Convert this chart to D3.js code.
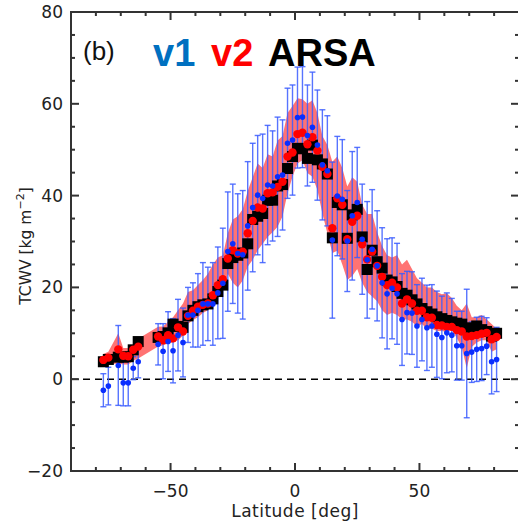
<!DOCTYPE html>
<html><head><meta charset="utf-8">
<script src="https://cdn.jsdelivr.net/npm/d3@7"></script>
<style>body{margin:0;background:#fff;} svg{display:block;}</style>
</head><body>
<script>
const latitudes = [-77,-75,-71,-69,-67,-65,-63,
 -55,-53,-51,-49,-47,-45,-43,-41,-39,-37,-35,-33,-31,-29,-27,-25,-23,-21,-19,-17,-15,-13,-11,-9,-7,-5,-3,-1,
 1,3,5,7,9,11,13,15,17,19,21,23,25,27,29,31,33,35,37,39,41,43,45,47,49,51,53,55,57,59,61,63,65,67,69,71,73,75,77,79,81];
const v1 = [-2.4,-1.5,3.0,-0.8,-0.8,2.4,3.8,
 7.6,6.1,8.2,6.2,9.6,8.0,14.0,14.0,15.0,16.4,16.4,16.4,18.8,20.9,27.8,29.5,27.4,27.1,33.4,37.4,40.1,39.4,42.3,42.1,44.1,44.5,51.4,52.1,
 57.0,57.1,53.1,54.9,51.0,46.7,45.4,30.3,39.9,39.2,30.1,35.6,38.5,30.5,26.0,28.3,24.7,21.0,18.6,19.8,18.6,13.0,14.5,14.4,11.6,13.0,11.2,11.6,9.8,9.1,10.1,9.6,7.3,7.3,5.6,5.9,6.5,6.7,7.2,3.8,4.3];
const v1Err = [3.6,4.1,8.7,5.0,5.0,2.5,3.5,
 4.5,6.0,6.5,7.0,7.8,7.5,6.0,7.0,8.0,9.0,8.0,9.0,10.0,12.0,13.0,13.0,13.0,14.0,14.0,14.0,13.0,14.0,13.0,12.0,13.0,12.0,12.0,12.0,
 11.0,11.0,11.0,12.0,12.0,12.0,12.0,17.0,13.0,13.0,11.0,14.0,12.0,12.0,12.7,13.0,12.0,12.0,12.0,11.0,11.0,10.0,9.0,9.0,9.0,9.0,9.3,9.0,9.4,9.0,8.7,8.0,7.5,7.5,14.0,6.6,7.0,7.0,6.2,7.0,7.0];
const v2 = [4.2,4.7,6.5,5.1,5.0,6.4,7.1,
 9.3,8.5,9.6,8.9,11.3,10.4,13.8,14.9,15.8,16.2,16.5,18.3,20.5,21.8,26.3,28.1,27.4,27.8,31.8,34.5,37.4,37.2,40.5,40.7,41.9,43.0,48.5,49.4,
 53.4,53.7,51.2,52.7,49.8,46.3,44.7,32.9,39.4,38.0,30.5,34.3,35.6,29.4,26.1,27.8,24.7,22.3,20.5,21.0,20.0,16.5,17.4,16.5,14.9,14.9,13.5,13.4,11.8,11.7,11.4,11.4,10.7,10.4,9.3,9.4,9.6,9.9,10.1,8.7,9.2];
const v2Lo = [3.0,3.2,3.4,3.2,3.2,4.0,4.5,
 7.1,7.4,7.8,8.0,8.5,9.5,12.0,12.9,13.5,14.4,15.0,16.0,17.5,19.4,23.0,21.0,20.0,21.5,24.5,26.0,28.1,29.5,31.0,32.0,33.2,35.5,40.5,44.1,
 47.0,47.7,44.9,44.1,41.2,36.1,31.8,27.5,28.0,25.0,21.6,22.5,24.0,21.0,19.0,18.0,17.0,15.0,14.0,14.5,14.0,13.0,13.0,12.5,11.5,12.0,11.0,11.0,10.5,10.5,10.3,10.7,9.0,7.0,2.4,7.0,8.0,8.5,8.5,6.0,6.5];
const v2Hi = [5.5,6.0,10.0,6.8,6.8,7.5,8.8,
 11.4,11.5,12.5,13.5,15.0,16.5,19.0,19.4,20.5,21.6,23.0,25.0,26.5,27.0,31.8,34.8,35.5,37.0,41.0,44.0,47.0,46.0,49.0,48.5,52.0,53.0,58.0,59.5,
 61.2,61.0,60.0,60.8,58.0,53.0,51.0,47.4,48.5,46.0,42.0,44.0,43.0,38.0,36.0,36.0,32.0,29.0,27.0,26.5,27.0,25.0,26.0,24.0,22.0,21.0,20.0,20.0,19.0,18.5,18.7,17.7,16.0,15.0,16.5,13.5,13.5,14.0,13.0,12.0,11.0];
const arsa = [3.8,4.3,4.8,4.8,4.9,6.4,8.2,
 9.1,9.3,10.1,12.0,11.5,11.3,13.8,15.0,15.8,16.2,16.4,17.5,19.1,20.5,25.2,26.5,27.0,27.5,29.5,34.8,35.5,36.1,39.0,39.0,42.1,42.4,45.9,48.5,
 50.3,50.2,48.1,51.0,47.8,46.9,44.7,30.8,38.5,38.0,30.7,35.8,37.0,31.0,23.9,28.1,25.6,24.2,21.6,21.2,20.2,18.7,18.3,17.3,16.4,15.4,14.7,14.2,13.6,13.2,12.8,12.5,12.2,12.0,11.2,10.8,11.6,10.8,10.4,9.4,10.0];
const xTicks = [-50, 0, 50];
const yTicks = [-20, 0, 20, 40, 60, 80];

const W = 518, H = 523;
const svg = d3.select("body").append("svg").attr("width", W).attr("height", H);
const L = 71, R = 519, T = 12, B = 471;
const x = d3.scaleLinear().domain([-90, 90]).range([L, R]);
const y = d3.scaleLinear().domain([-20, 80]).range([B, T]);
const font = "'DejaVu Sans', sans-serif";

const idx = d3.range(latitudes.length);

// band
svg.append("path")
  .datum(idx)
  .attr("fill", "#ff6767")
  .attr("fill-opacity", 0.92)
  .attr("d", d3.area().x(i => x(latitudes[i])).y0(i => y(v2Lo[i])).y1(i => y(v2Hi[i])));

// zero line
svg.append("line").attr("x1", L).attr("x2", R).attr("y1", y(0)).attr("y2", y(0))
  .attr("stroke", "#000").attr("stroke-width", 1.5).attr("stroke-dasharray", "7,5");

// blue error bars
const eb = svg.append("g").attr("stroke", "#3a5cff").attr("stroke-opacity", 0.85).attr("stroke-width", 1.4);
idx.forEach(i => {
  const cx = x(latitudes[i]), y1 = y(v1[i] + v1Err[i]), y2 = y(v1[i] - v1Err[i]);
  eb.append("line").attr("x1", cx).attr("x2", cx).attr("y1", y1).attr("y2", y2);
  eb.append("line").attr("x1", cx - 3).attr("x2", cx + 3).attr("y1", y1).attr("y2", y1);
  eb.append("line").attr("x1", cx - 3).attr("x2", cx + 3).attr("y1", y2).attr("y2", y2);
});

// black squares
svg.append("g").selectAll("rect").data(idx).join("rect")
  .attr("x", i => x(latitudes[i]) - 5.5).attr("y", i => y(arsa[i]) - 5.5)
  .attr("width", 11).attr("height", 11).attr("fill", "#000");

// red dots
svg.append("g").selectAll("circle").data(idx).join("circle")
  .attr("cx", i => x(latitudes[i])).attr("cy", i => y(v2[i])).attr("r", 4.2).attr("fill", "#ff0000");

// blue dots
svg.append("g").selectAll("circle").data(idx).join("circle")
  .attr("cx", i => x(latitudes[i])).attr("cy", i => y(v1[i])).attr("r", 2.8).attr("fill", "#0a2eff");

// frame
const ax = svg.append("g").attr("stroke", "#333").attr("stroke-width", 2).attr("fill", "none");
ax.append("rect").attr("x", L).attr("y", T).attr("width", R - L).attr("height", B - T);
d3.range(-80, 91, 10).forEach(v => {
  const len = (v % 50 === 0) ? 8 : 4;
  ax.append("line").attr("x1", x(v)).attr("x2", x(v)).attr("y1", B).attr("y2", B - len);
  ax.append("line").attr("x1", x(v)).attr("x2", x(v)).attr("y1", T).attr("y2", T + len);
});
d3.range(-15, 80, 5).forEach(v => {
  const len = (v % 20 === 0) ? 8 : 4;
  ax.append("line").attr("x1", L).attr("x2", L + len).attr("y1", y(v)).attr("y2", y(v));
  ax.append("line").attr("x1", R).attr("x2", R - len).attr("y1", y(v)).attr("y2", y(v));
});

// tick labels
const fmt = v => (v < 0 ? "\u2212" + Math.abs(v) : String(v));
svg.append("g").selectAll("text").data(xTicks).join("text")
  .attr("x", d => x(d)).attr("y", 497).attr("text-anchor", "middle")
  .attr("font-family", font).attr("font-size", 17).attr("fill", "#222").text(fmt);
svg.append("g").selectAll("text").data(yTicks).join("text")
  .attr("x", 63).attr("y", d => y(d) + 6).attr("text-anchor", "end")
  .attr("font-family", font).attr("font-size", 17).attr("fill", "#222").text(fmt);

// axis titles
svg.append("text").attr("x", x(0)).attr("y", 517).attr("text-anchor", "middle")
  .attr("font-family", font).attr("font-size", 17).attr("letter-spacing", 0.5).attr("fill", "#222").text("Latitude [deg]");
const yt = svg.append("text").attr("transform", "translate(31,246) rotate(-90)").attr("text-anchor", "middle")
  .attr("font-family", font).attr("font-size", 15.5).attr("fill", "#222");
yt.append("tspan").text("TCWV [kg  m");
yt.append("tspan").attr("dy", -7).attr("font-size", 11).text("\u22122");
yt.append("tspan").attr("dy", 7).text("]");

// titles
svg.append("text").attr("x", 83).attr("y", 60).attr("font-family", "'Liberation Sans', sans-serif")
  .attr("font-size", 26).attr("fill", "#111").text("(b)");
const tf = "'Liberation Sans', Arial, sans-serif";
svg.append("text").attr("x", 153).attr("y", 66).attr("font-family", tf).attr("font-size", 38)
  .attr("font-weight", "bold").attr("fill", "#0070c0").text("v1");
svg.append("text").attr("x", 211).attr("y", 66).attr("font-family", tf).attr("font-size", 38)
  .attr("font-weight", "bold").attr("fill", "#ff0000").text("v2");
svg.append("text").attr("x", 268).attr("y", 66).attr("font-family", tf).attr("font-size", 38)
  .attr("font-weight", "bold").attr("fill", "#000").text("ARSA");
</script>
</body></html>
